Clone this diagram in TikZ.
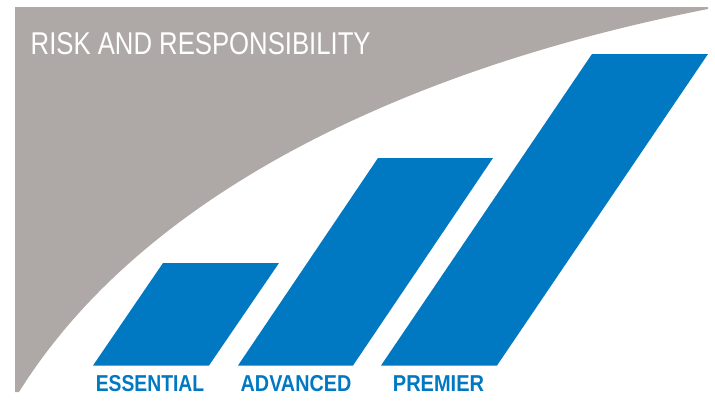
\documentclass[tikz,border=0pt]{standalone}
\usepackage{fontspec}
\usepackage{graphicx}
\setmainfont{Liberation Sans}
\definecolor{riskgray}{RGB}{174,169,166}
\definecolor{tierblue}{RGB}{0,121,194}
\tikzset{
  tierbar/.style={fill=tierblue, draw=none},
  tierlabel/.style={text=tierblue, inner sep=0pt, anchor=base, font=\fontsize{23}{23}\selectfont\bfseries},
  titletext/.style={text=white, inner sep=0pt, anchor=base west, font=\fontsize{31.5}{32}\selectfont}
}
\begin{document}
\begin{tikzpicture}[x=1pt,y=-1pt]
\useasboundingbox (0,0) rectangle (715,400);
% gray risk area
\fill[riskgray] (15,7) -- (708,7) -- (708,9)
  .. controls (408,68) and (144,192) .. (19,392) -- (15,392) -- cycle;
\node[titletext] (title) at (30.5,54.3) {\scalebox{0.816}[1]{RISK AND RESPONSIBILITY}};
% tiers
\fill[tierbar] (93,365.5) -- (209,365.5) -- (279,263) -- (163,263) -- cycle;
\fill[tierbar] (238,365.5) -- (353,365.5) -- (493,158) -- (378,158) -- cycle;
\fill[tierbar] (381,365.5) -- (497,365.5) -- (708,54) -- (592,54) -- cycle;
\node[tierlabel] (ess) at (150,391) {\scalebox{0.84}[1]{ESSENTIAL}};
\node[tierlabel] (adv) at (296,391) {\scalebox{0.86}[1]{ADVANCED}};
\node[tierlabel] (pre) at (438.5,391) {\scalebox{0.87}[1]{PREMIER}};
\end{tikzpicture}
\end{document}
